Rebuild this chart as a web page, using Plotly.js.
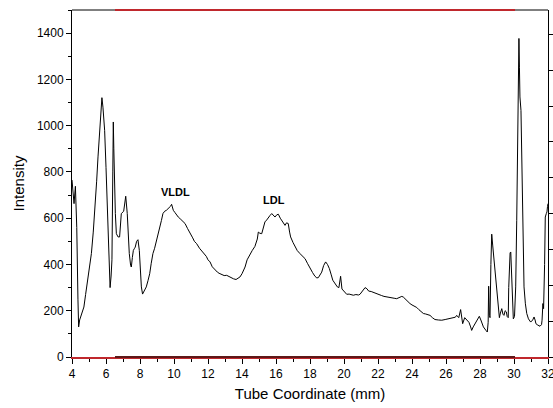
<!DOCTYPE html>
<html><head><meta charset="utf-8">
<script src="https://cdn.plot.ly/plotly-3.0.1.min.js"></script>
<style>html,body{margin:0;padding:0;background:#fff;}#chart{width:553px;height:408px;}</style>
</head><body><div id="chart"></div>
<script>
const tubeX = [4.00,4.05,4.12,4.20,4.28,4.35,4.39,4.45,4.51,4.60,4.70,4.80,4.90,5.00,5.14,5.25,5.33,5.45,5.53,5.60,5.67,5.72,5.76,5.82,5.92,6.00,6.08,6.16,6.24,6.30,6.35,6.40,6.43,6.46,6.49,6.55,6.61,6.71,6.80,6.85,6.90,7.04,7.10,7.16,7.25,7.30,7.37,7.45,7.49,7.55,7.61,7.68,7.72,7.80,7.88,7.96,8.02,8.08,8.15,8.20,8.30,8.37,8.47,8.57,8.66,8.76,8.86,8.96,9.06,9.16,9.26,9.35,9.45,9.55,9.66,9.75,9.80,9.86,9.90,9.96,10.05,10.15,10.25,10.40,10.55,10.65,10.80,10.94,11.10,11.20,11.33,11.50,11.60,11.72,11.90,12.00,12.12,12.25,12.41,12.55,12.65,12.80,12.95,13.10,13.20,13.35,13.50,13.65,13.75,13.88,14.00,14.10,14.18,14.30,14.47,14.60,14.76,14.90,14.96,15.05,15.16,15.25,15.35,15.45,15.55,15.65,15.75,15.85,15.94,16.05,16.14,16.25,16.34,16.45,16.53,16.62,16.72,16.80,16.86,17.00,17.12,17.25,17.41,17.55,17.71,17.85,18.00,18.15,18.29,18.40,18.49,18.60,18.69,18.80,18.92,19.03,19.14,19.25,19.34,19.45,19.61,19.70,19.80,19.88,20.00,20.16,20.30,20.45,20.55,20.70,20.85,20.94,21.10,21.24,21.35,21.45,21.60,21.75,21.92,22.05,22.20,22.35,22.51,22.65,22.80,22.95,23.10,23.25,23.40,23.49,23.60,23.75,23.88,24.00,24.15,24.28,24.40,24.55,24.67,24.80,24.95,25.06,25.20,25.35,25.55,25.75,25.95,26.10,26.24,26.40,26.55,26.63,26.75,26.86,26.92,26.98,27.10,27.22,27.35,27.45,27.51,27.60,27.70,27.85,27.96,28.05,28.20,28.35,28.43,28.48,28.51,28.55,28.59,28.64,28.69,28.75,28.84,28.92,28.98,29.05,29.14,29.20,29.28,29.35,29.41,29.48,29.55,29.60,29.66,29.69,29.72,29.77,29.81,29.86,29.92,29.96,30.03,30.10,30.16,30.22,30.26,30.29,30.32,30.35,30.41,30.45,30.49,30.55,30.59,30.67,30.75,30.85,30.98,31.10,31.18,31.24,31.29,31.40,31.53,31.62,31.65,31.70,31.74,31.80,31.84,31.90,31.94,31.97,32.00];
const intensity = [765,700,663,738,560,250,130,160,173,190,216,270,317,370,447,540,620,760,865,960,1023,1090,1121,1080,980,820,649,389,300,350,420,800,1016,900,764,620,533,519,519,580,620,630,660,695,620,540,447,395,389,430,461,470,475,500,507,461,380,303,272,278,295,303,330,360,405,447,470,497,530,562,590,620,630,634,641,648,652,660,648,634,625,612,605,595,582,577,555,533,515,500,490,470,462,454,435,420,411,390,375,367,362,357,352,353,349,344,338,335,340,346,360,375,389,420,447,460,478,510,540,535,533,560,584,592,605,612,620,612,605,615,617,600,591,575,569,580,577,540,519,495,475,460,447,435,425,405,382,365,349,342,343,355,367,395,411,400,382,355,332,320,303,300,349,294,285,271,272,268,267,270,268,271,285,300,295,285,283,278,274,270,266,262,259,258,255,254,252,256,262,259,250,240,231,225,220,214,205,195,188,186,182,180,170,162,160,159,162,165,166,170,172,180,170,205,160,144,170,159,150,130,115,130,144,165,176,160,130,115,108,150,306,180,170,400,531,480,404,330,274,230,170,190,209,185,180,200,195,175,170,300,418,450,454,320,180,165,175,303,591,980,1300,1377,1250,1124,1066,850,649,420,303,230,188,165,151,160,173,160,144,138,133,140,159,231,209,400,605,620,627,650,663];
const peakLabels = ['VLDL','LDL'];
const peakLabelX = [10.06, 15.88];
const peakLabelY = [713, 680];
const accentRange = [6.53, 30.06];

const fam = 'Arial';
const data = [
  {x: tubeX, y: intensity, type: 'scatter', mode: 'lines', line: {color: '#000', width: 1}, hoverinfo: 'skip', showlegend: false},
  {x: [4, 32], y: [null, null], yaxis: 'y2', type: 'scatter', mode: 'lines', showlegend: false, hoverinfo: 'skip'}
];
const layout = {
  width: 553, height: 408,
  margin: {l: 72, r: 5, t: 10, b: 51, pad: 0},
  paper_bgcolor: '#fff', plot_bgcolor: '#fff',
  font: {family: fam, size: 12, color: '#000'},
  showlegend: false,
  xaxis: {
    range: [4, 32], tickmode: 'linear', tick0: 4, dtick: 2,
    ticks: 'outside', ticklen: 5, tickwidth: 1, tickcolor: '#000',
    minor: {dtick: 1, ticks: 'outside', ticklen: 3, tickcolor: '#000'},
    showline: true, linecolor: '#c0282d', linewidth: 2, mirror: false,
    showgrid: false, zeroline: false, ticklabeloverflow: 'allow',
    tickfont: {family: fam, size: 12, color: '#000'},
    title: {text: 'Tube Coordinate (mm)', font: {family: fam, size: 15, color: '#000'}, standoff: 8}
  },
  yaxis: {
    range: [0, 1500], tickmode: 'linear', tick0: 0, dtick: 200,
    ticks: 'outside', ticklen: 5, tickwidth: 1, tickcolor: '#000',
    minor: {dtick: 100, ticks: 'outside', ticklen: 3, tickcolor: '#000'},
    showline: true, linecolor: '#000', linewidth: 1,
    showgrid: false, zeroline: false,
    tickfont: {family: fam, size: 12, color: '#000'},
    title: {text: 'Intensity', font: {family: fam, size: 15, color: '#000'}, standoff: 8}
  },
  yaxis2: {
    overlaying: 'y', side: 'right', range: [0, 9.68], tickmode: 'linear', tick0: 0, dtick: 1,
    ticks: 'outside', ticklen: 5, tickcolor: '#000', showticklabels: false,
    showline: true, linecolor: '#000', linewidth: 1, showgrid: false, zeroline: false
  },
  shapes: [
    {type: 'line', xref: 'x', yref: 'paper', x0: 4, x1: 32, y0: 1, y1: 1, line: {color: '#000', width: 1}},
    {type: 'line', xref: 'x', yref: 'paper', x0: accentRange[0], x1: accentRange[1], y0: 1, y1: 1, line: {color: '#c0282d', width: 2}},
    {type: 'line', xref: 'x', yref: 'paper', x0: accentRange[0], x1: accentRange[1], y0: 0, y1: 0, line: {color: '#5e1818', width: 2}}
  ],
  annotations: peakLabels.map((t, i) => ({
    x: peakLabelX[i], y: peakLabelY[i], xref: 'x', yref: 'y', text: '<b>' + t + '</b>',
    showarrow: false, font: {size: 11, color: '#000', family: fam}
  }))
};
Plotly.newPlot('chart', data, layout, {displayModeBar: false, staticPlot: true});
</script></body></html>
